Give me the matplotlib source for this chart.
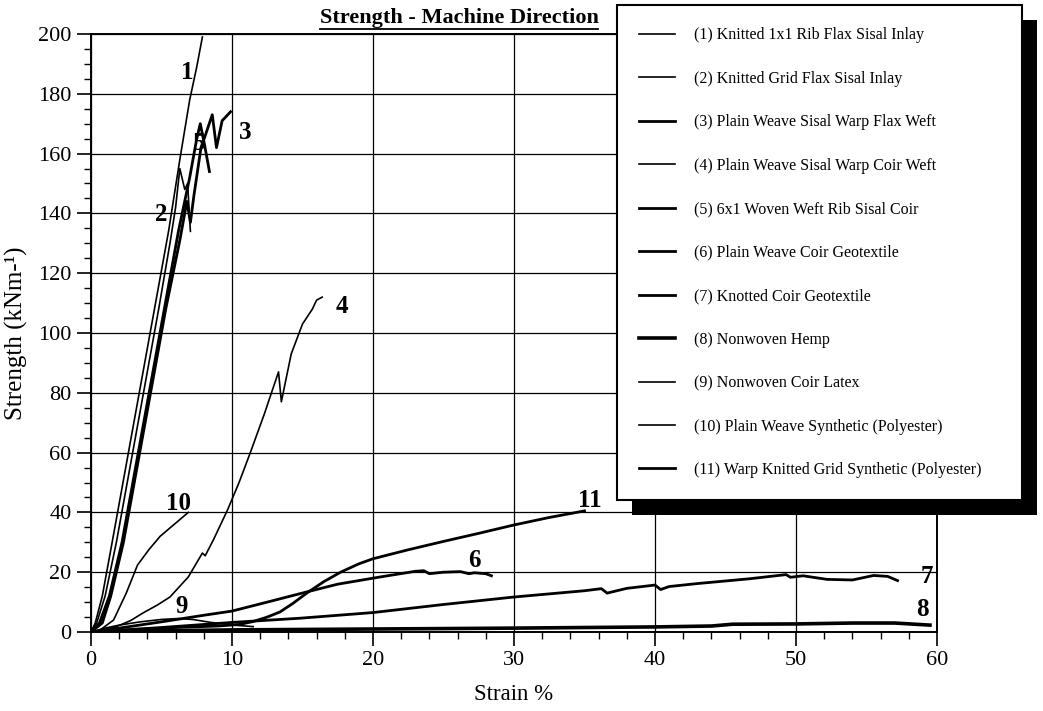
import matplotlib
matplotlib.use("Agg")
import matplotlib.pyplot as plt
from matplotlib.lines import Line2D
from matplotlib.patches import Rectangle
from matplotlib.transforms import IdentityTransform
from matplotlib.ticker import MultipleLocator

plt.rcParams["font.family"] = ["Liberation Serif", "DejaVu Serif"]

# ---- data (strain %, strength kN/m) ----
c1_x = [0, 0.3, 0.8, 1.5, 2.5, 3.5, 4.5, 5.5, 6.3, 7.0, 7.5, 7.9]
c1_y = [0, 3, 12, 30, 56, 82, 108, 134, 158, 178, 189, 199]

c2_x = [0, 0.4, 1.0, 1.8, 2.8, 3.8, 4.8, 5.6, 6.0, 6.3, 6.65, 6.85, 7.05]
c2_y = [0, 3, 12, 30, 56, 82, 108, 130, 142, 155, 148, 150, 134]

c3_x = [0, 0.8, 1.4, 2.3, 3.3, 4.3, 5.3, 6.3, 6.8, 7.05, 7.3, 7.8, 8.1, 8.6, 8.9, 9.3, 9.9]
c3_y = [0, 3, 12, 30, 56, 82, 108, 131, 144, 137, 146, 162, 166, 173, 162, 171, 174]

c4_x = [0, 1.0, 1.8, 2.8, 3.7, 4.7, 5.6, 6.9, 7.9, 8.1, 8.7, 9.7, 10.5, 11.3, 12.3, 13.3, 13.5, 14.2, 15.0, 15.7, 16.0, 16.4]
c4_y = [0, 0.8, 1.8, 3.8, 6.4, 9.0, 11.7, 18.4, 26.4, 25.5, 31, 41, 50, 60, 73, 87, 77, 93, 103, 108, 111, 112]

c5_x = [0, 0.6, 1.3, 2.2, 3.2, 4.2, 5.2, 6.2, 7.0, 7.5, 7.75, 8.05, 8.4]
c5_y = [0, 3, 12, 30, 56, 82, 108, 134, 152, 165, 170, 163, 154]

c6_x = [0, 2, 5, 8, 10, 12.5, 15.3, 17.5, 20.5, 23, 23.6, 24.0, 25, 26.2, 26.8, 27.2, 28.0, 28.4]
c6_y = [0, 1.3, 3.4, 5.6, 7.0, 10.0, 13.4, 16.0, 18.4, 20.3, 20.5, 19.5, 20, 20.2, 19.5, 19.8, 19.5, 18.8]

c7_x = [0, 5, 10, 14.8, 20, 25, 30, 35, 36.2, 36.6, 38, 40, 40.4, 41, 43, 46.7, 49.3, 49.6, 50.5, 52.2, 54, 55.5, 56.5, 57.2]
c7_y = [0, 1.5, 3.2, 4.6, 6.5, 9.2, 11.7, 13.8, 14.5, 13.0, 14.6, 15.7, 14.2, 15.2, 16.2, 17.8, 19.2, 18.3, 18.8, 17.6, 17.4, 18.9, 18.6, 17.2]

c8_x = [0, 5, 10, 20, 30, 40, 44, 45.5, 50, 54, 57, 59.5]
c8_y = [0, 0.4, 0.7, 1.0, 1.3, 1.7, 2.0, 2.6, 2.7, 3.0, 3.0, 2.3]

c9_x = [0, 1, 2, 3.5, 5, 6.2, 7.2, 8.5, 10.4, 11.5]
c9_y = [0, 1.3, 2.3, 3.4, 4.2, 4.5, 4.2, 3.2, 2.2, 1.8]

c10_x = [0, 0.6, 1.6, 2.5, 3.3, 4.1, 4.9, 5.9, 6.9]
c10_y = [0, 0.5, 4, 13, 22.4, 27.5, 32, 36, 40]

c11_x = [0, 3, 6, 9, 10.5, 11.5, 12.5, 13.4, 14.3, 15.3, 16.5, 17.7, 19.0, 20.0, 22.5, 25, 27.5, 30, 32.5, 35.0]
c11_y = [0, 0.8, 1.5, 2.0, 2.5, 3.5, 5.0, 6.7, 9.5, 13, 16.8, 20, 22.8, 24.5, 27.5, 30.3, 33, 35.8, 38.3, 40.5]

names = [
    "(1) Knitted 1x1 Rib Flax Sisal Inlay",
    "(2) Knitted Grid Flax Sisal Inlay",
    "(3) Plain Weave Sisal Warp Flax Weft",
    "(4) Plain Weave Sisal Warp Coir Weft",
    "(5) 6x1 Woven Weft Rib Sisal Coir",
    "(6) Plain Weave Coir Geotextile",
    "(7) Knotted Coir Geotextile",
    "(8) Nonwoven Hemp",
    "(9) Nonwoven Coir Latex",
    "(10) Plain Weave Synthetic (Polyester)",
    "(11) Warp Knitted Grid Synthetic (Polyester)",
]
curve_tags = ["1", "2", "3", "4", "5", "6", "7", "8", "9", "10", "11"]
tag_x = [6.8, 5.0, 10.9, 17.8, 7.7, 27.2, 59.3, 59.0, 6.4, 6.2, 35.4]
tag_y = [187, 139.5, 167, 109, 163.5, 24, 18.4, 7.4, 8.4, 43, 44]

xs = [c1_x, c2_x, c3_x, c4_x, c5_x, c6_x, c7_x, c8_x, c9_x, c10_x, c11_x]
ys = [c1_y, c2_y, c3_y, c4_y, c5_y, c6_y, c7_y, c8_y, c9_y, c10_y, c11_y]
widths = [1.2, 1.2, 2.0, 1.2, 2.0, 2.0, 2.0, 2.6, 1.2, 1.2, 2.0]

fig = plt.figure(figsize=(10.43, 7.11), dpi=100)
ax = fig.add_axes([91 / 1043, 1 - 632 / 711, 846 / 1043, 598 / 711])

for x, y, w, name in zip(xs, ys, widths, names):
    ax.plot(x, y, color="black", lw=w, label=name, solid_joinstyle="round")

for t, tx, ty in zip(curve_tags, tag_x, tag_y):
    ax.text(tx, ty, t, fontsize=18, fontweight="bold", ha="center", va="center")

ax.set_xlim(0, 60)
ax.set_ylim(0, 200)
ax.xaxis.set_major_locator(MultipleLocator(10))
ax.xaxis.set_minor_locator(MultipleLocator(2))
ax.yaxis.set_major_locator(MultipleLocator(20))
ax.yaxis.set_minor_locator(MultipleLocator(5))
ax.grid(True, which="major", color="black", lw=0.9)
ax.set_axisbelow(True)
ax.tick_params(which="major", direction="out", length=10, width=1.2, labelsize=16, pad=4)
ax.tick_params(which="minor", direction="out", length=5, width=1)
for s in ax.spines.values():
    s.set_linewidth(1.4)

ax.set_xlabel("Strain %", fontsize=16.5)
ax.set_ylabel("Strength (kNm-\u00b9)", fontsize=18)
ax.xaxis.set_label_coords(0.5, -0.087)
ax.yaxis.set_label_coords(-0.0745, 0.5)

title = fig.text(459 / 1043, 1 - 18 / 711, "Strength - Machine Direction",
                 fontsize=16, fontweight="bold", ha="center", va="center")

leg = fig.legend(*ax.get_legend_handles_labels(), loc="upper left",
                 bbox_to_anchor=(617 / 1043, 0.294, 405 / 1043, 1 - 5 / 711 - 0.294),
                 mode="expand", borderaxespad=0, fontsize=11.5, labelspacing=1.72,
                 handlelength=2.2, handletextpad=1.25, borderpad=1.4,
                 fancybox=False, framealpha=1, edgecolor="black")
leg.get_frame().set_linewidth(1.5)

# underline the title and put a solid drop shadow behind the legend box
fig.canvas.draw()
bb = title.get_window_extent()
fig.add_artist(Line2D([bb.x0, bb.x1], [bb.y0 - 1, bb.y0 - 1], color="black",
                      lw=1.3, transform=IdentityTransform()))
lb = leg.get_frame().get_window_extent()
fig.add_artist(Rectangle((lb.x0 + 15, lb.y0 - 15), lb.width, lb.height,
                         facecolor="black", edgecolor="none",
                         transform=IdentityTransform(), zorder=4))

fig.savefig("out.png", dpi=100)
